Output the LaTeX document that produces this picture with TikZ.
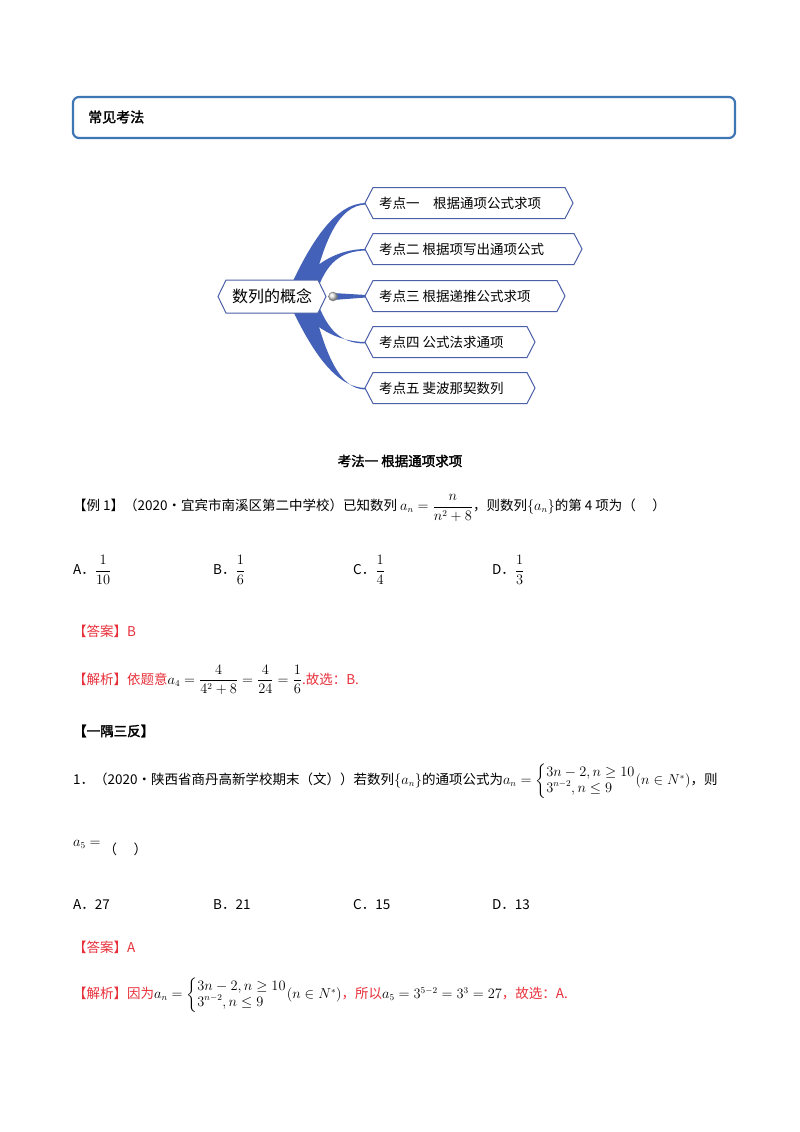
\documentclass[tikz,border=0pt]{standalone}
\usepackage{amsmath}
\usepackage{fontspec}
\setmainfont[AutoFakeBold=2]{Noto Sans CJK SC}
\usetikzlibrary{calc}
\definecolor{hdr}{HTML}{3E75B5}
\definecolor{br}{HTML}{4361B8}
\definecolor{bx}{HTML}{4A5FA8}
\definecolor{rd}{HTML}{E8303A}
\newcommand{\mycases}{\left\{\begin{array}{@{}l@{}}3n-2,n\ge 10\\ 3^{n-2},n\le 9\end{array}\right.\!\left(n\in N^*\right)}
\tikzset{
 txt/.style={anchor=west,inner sep=0pt,font=\fontsize{13.5}{16}\selectfont},
 mm/.style={font=\fontsize{13.5}{16}\selectfont,inner sep=0pt,anchor=west},
 red/.style={text=rd}
}
\begin{document}
\begin{tikzpicture}[x=1pt,y=-1pt]
\useasboundingbox (0,0) rectangle (800,1132);
\fill[white] (0,0) rectangle (800,1132);
% header
\draw[hdr,line width=2.2pt,rounded corners=6pt] (73,97) rectangle (735,138);
\node[txt,font=\fontsize{14}{16}\selectfont\bfseries] (hd) at (88,117) {常见考法};
% mind map branches
\foreach \y/\xs/\ys in {203/292/283, 249/298/283, 342/298/309, 388/292/309}{
 \fill[br] (\xs,\ys) .. controls ($(\xs,\ys)!0.5!(330,\y)$) and (335,\y) .. (366,\y)
   -- (366,\y+1.5) .. controls (338,\y+2) and ($(\xs+22,\ys)!0.5!(335,\y)$) .. (\xs+22,\ys) -- cycle;
}
\fill[br] (333,293) -- (366,295) -- (366,297.5) -- (333,300) -- cycle;
% central node
\draw[bx,line width=1pt,fill=white] (226,280) -- (318,280) -- (326,296.5) -- (318,313) -- (226,313) -- (218,296.5) -- cycle;
\node[font=\fontsize{16}{18}\selectfont] (c) at (272,296.5) {数列的概念};
\shade[ball color=white!80!gray] (333,296.5) circle (4.5);
\draw[gray,line width=0.4pt] (333,296.5) circle (4.5);
\foreach \y/\r/\t [count=\i] in {203/573/{考点一\quad 根据通项公式求项},249/582/{考点二\ 根据项写出通项公式},296/565/{考点三\ 根据递推公式求项},342/535/{考点四\ 公式法求通项},388/535/{考点五\ 斐波那契数列}}{
 \draw[bx,line width=1pt,fill=white] (373,\y-15.5) -- (\r-8,\y-15.5) -- (\r,\y) -- (\r-8,\y+15.5) -- (373,\y+15.5) -- (365,\y) -- cycle;
 \node[mm] (k\i) at (379,\y) {\t};
}
% section title
\node[font=\fontsize{13.5}{16}\selectfont\bfseries,inner sep=0pt] (t1) at (400,461) {考法一\ 根据通项求项};
\node[txt] (ex1) at (73,508) {【例 1】（2020·宜宾市南溪区第二中学校）已知数列 $a_n=\dfrac{n}{n^2+8}$，则数列$\left\{a_n\right\}$的第 4 项为（\quad\ ）};
\node[txt] (oa) at (73,570) {A．$\dfrac{1}{10}$};
\node[txt] (ob) at (213,570) {B．$\dfrac{1}{6}$};
\node[txt] (oc) at (353,570) {C．$\dfrac{1}{4}$};
\node[txt] (od) at (492,570) {D．$\dfrac{1}{3}$};
\node[txt,red] (ans1) at (73,631) {【答案】B};
\node[txt] (sol1) at (73,680) {\textcolor{rd}{【解析】依题意}$a_4=\dfrac{4}{4^2+8}=\dfrac{4}{24}=\dfrac{1}{6}$\textcolor{rd}{.故选：B.}};
\node[txt,font=\fontsize{13.5}{16}\selectfont\bfseries] (yy) at (73,731) {【一隅三反】};
\node[txt] (p1) at (73,781) {1．（2020·陕西省商丹高新学校期末（文））若数列$\left\{a_n\right\}$的通项公式为$a_n=\mycases$，则};
\node[txt] (a5) at (73,848) {$a_5=$\ \raisebox{-8pt}{（\quad\ ）}};
\node[txt] (qa) at (73,905) {A．27};
\node[txt] (qb) at (213,905) {B．21};
\node[txt] (qc) at (353,905) {C．15};
\node[txt] (qd) at (492,905) {D．13};
\node[txt,red] (ans2) at (73,947) {【答案】A};
\node[txt] (sol2) at (73,995) {\textcolor{rd}{【解析】因为}$a_n=\mycases$\textcolor{rd}{，所以}$a_5=3^{5-2}=3^3=27$\textcolor{rd}{，故选：A.}};
\end{tikzpicture}
\end{document}
